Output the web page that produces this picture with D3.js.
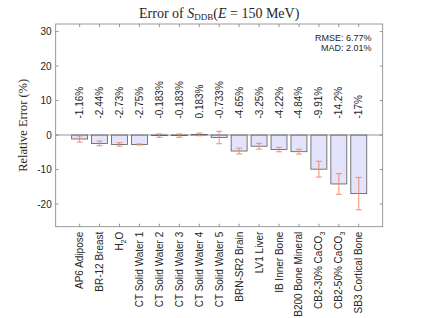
<!DOCTYPE html>
<meta charset="utf-8">
<head>
    <title>Error of S_DDB</title>
    <script src="https://cdn.jsdelivr.net/npm/d3@7"></script>
    <style>
        body { margin: 0; background: #fff; }
        text { font-family: "Liberation Sans", Arial, sans-serif; fill: #262626; }
        .serif { font-family: "Liberation Serif", "DejaVu Serif", serif; }
    </style>
</head>
<body>
<div id="chart"></div>
<script>
// categories (sub = subscript part)
var materials = [
    ["AP6 Adipose"], ["BR-12 Breast"], ["H", "2", "O"],
    ["CT Solid Water 1"], ["CT Solid Water 2"], ["CT Solid Water 3"],
    ["CT Solid Water 4"], ["CT Solid Water 5"], ["BRN-SR2 Brain"],
    ["LV1 Liver"], ["IB Inner Bone"], ["B200 Bone Mineral"],
    ["CB2-30% CaCO", "3"], ["CB2-50% CaCO", "3"], ["SB3 Cortical Bone"]
];
var relError = [-1.16, -2.44, -2.73, -2.75, -0.183, -0.183, 0.183, -0.733,
                -4.65, -3.25, -4.22, -4.84, -9.91, -14.2, -17];
var errHalf = [0.9, 0.7, 0.5, 0.15, 0.5, 0.5, 0.4, 1.8,
               0.85, 0.85, 0.65, 0.7, 2.3, 3.0, 4.7];
var yTicks = [-20, -10, 0, 10, 20, 30];
var stats = ["RMSE: 6.77%", "MAD: 2.01%"];

var w = 424, h = 318;
var m = {left: 55.7, top: 24, right: 382.7, bottom: 226.7};

var svg = d3.select("#chart").append("svg")
    .attr("width", w).attr("height", h);

var idx = d3.range(materials.length);
var x = d3.scalePoint().domain(idx).range([m.left, m.right]).padding(1.2);
var y = d3.scaleLinear().domain([-26.6, 32.2]).range([m.bottom, m.top]);
var bw = x.step() * 0.8;

// bars
svg.append("g").selectAll("rect")
    .data(idx).enter().append("rect")
    .attr("x", function(i) { return x(i) - bw / 2; })
    .attr("y", function(i) { return y(Math.max(0, relError[i])); })
    .attr("width", bw)
    .attr("height", function(i) { return Math.abs(y(relError[i]) - y(0)); })
    .attr("fill", "#e3e3fb")
    .attr("stroke", "#5a5a5a")
    .attr("stroke-width", 0.8);

// zero line
svg.append("line")
    .attr("x1", m.left).attr("x2", m.right)
    .attr("y1", y(0)).attr("y2", y(0))
    .attr("stroke", "#7a7a7a").attr("stroke-width", 0.8);

// error bars
var eb = svg.append("g").attr("stroke", "#f0845c").attr("stroke-width", 0.9);
idx.forEach(function(i) {
    var lo = y(relError[i] - errHalf[i]), hi = y(relError[i] + errHalf[i]);
    var cx = x(i);
    eb.append("line").attr("x1", cx).attr("x2", cx).attr("y1", lo).attr("y2", hi);
    eb.append("line").attr("x1", cx - 3).attr("x2", cx + 3).attr("y1", lo).attr("y2", lo);
    eb.append("line").attr("x1", cx - 3).attr("x2", cx + 3).attr("y1", hi).attr("y2", hi);
});

// value labels
var fmt = d3.format(".3~g");
svg.append("g").selectAll("text")
    .data(idx).enter().append("text")
    .attr("transform", function(i) { return "translate(" + (x(i) + 3.5) + "," + y(4.8) + ") rotate(-90)"; })
    .attr("font-size", 10)
    .text(function(i) { return fmt(relError[i]).replace("\u2212", "-") + "%"; });

// axes box
var axisCol = "#808080";
svg.append("rect")
    .attr("x", m.left).attr("y", m.top)
    .attr("width", m.right - m.left).attr("height", m.bottom - m.top)
    .attr("fill", "none").attr("stroke", axisCol).attr("stroke-width", 0.8);

// y ticks (inward, both sides)
var yt = svg.append("g");
yTicks.forEach(function(t) {
    var ty = y(t);
    yt.append("line").attr("x1", m.left).attr("x2", m.left + 3).attr("y1", ty).attr("y2", ty)
        .attr("stroke", axisCol).attr("stroke-width", 0.8);
    yt.append("line").attr("x1", m.right).attr("x2", m.right - 3).attr("y1", ty).attr("y2", ty)
        .attr("stroke", axisCol).attr("stroke-width", 0.8);
    yt.append("text").attr("x", m.left - 4).attr("y", ty + 3.6)
        .attr("text-anchor", "end").attr("font-size", 10).text(t);
});

// x ticks and labels
var xt = svg.append("g");
idx.forEach(function(i) {
    var tx = x(i);
    xt.append("line").attr("x1", tx).attr("x2", tx).attr("y1", m.bottom).attr("y2", m.bottom - 3)
        .attr("stroke", axisCol).attr("stroke-width", 0.8);
    xt.append("line").attr("x1", tx).attr("x2", tx).attr("y1", m.top).attr("y2", m.top + 3)
        .attr("stroke", axisCol).attr("stroke-width", 0.8);
    var lab = xt.append("text")
        .attr("transform", "translate(" + (tx + 3.5) + "," + (m.bottom + 5) + ") rotate(-90)")
        .attr("text-anchor", "end").attr("font-size", 10);
    var parts = materials[i];
    lab.append("tspan").text(parts[0]);
    if (parts.length > 1) {
        lab.append("tspan").attr("font-size", 7).attr("dy", 3).text(parts[1]);
    }
    if (parts.length > 2) {
        lab.append("tspan").attr("dy", -3).text(parts[2]);
    }
});

// title
var title = svg.append("text").attr("class", "serif")
    .attr("x", (m.left + m.right) / 2).attr("y", 18)
    .attr("text-anchor", "middle").attr("font-size", 14);
title.append("tspan").text("Error of ");
title.append("tspan").attr("font-style", "italic").text("S");
title.append("tspan").attr("font-size", 9).attr("dy", 2).text("DDB");
title.append("tspan").attr("dy", -2).text("(");
title.append("tspan").attr("font-style", "italic").text("E");
title.append("tspan").text(" = 150 MeV)");

// y label
svg.append("text").attr("class", "serif")
    .attr("transform", "translate(27," + ((m.top + m.bottom) / 2) + ") rotate(-90)")
    .attr("text-anchor", "middle").attr("font-size", 12.5)
    .text("Relative Error (%)");

// stats
svg.append("g").selectAll("text")
    .data(stats).enter().append("text")
    .attr("x", 371.5)
    .attr("y", function(d, i) { return 41 + i * 10; })
    .attr("text-anchor", "end").attr("font-size", 9)
    .text(function(d) { return d; });
</script>
</body>
</html>
